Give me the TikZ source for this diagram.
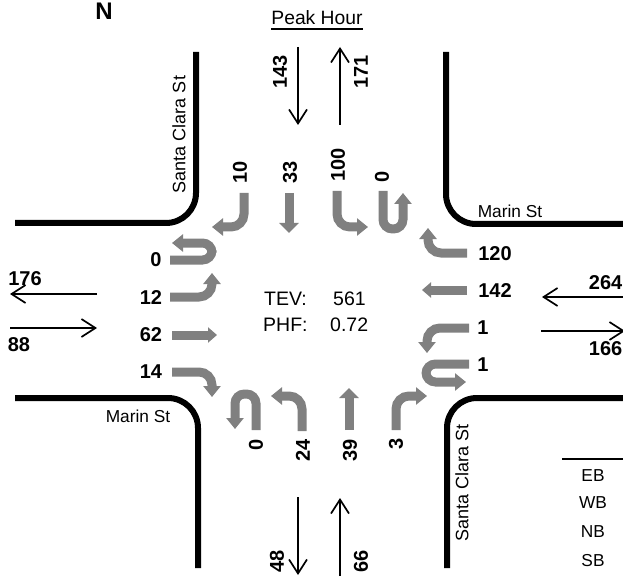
\documentclass[tikz,border=0pt]{standalone}
\usepackage{fontspec}
\setmainfont{Liberation Sans}
\usepackage{xcolor}
\usetikzlibrary{arrows.meta}
\definecolor{movegray}{RGB}{128,128,128}
\tikzset{
  road/.style={line width=6pt, rounded corners=30pt},
  flow/.style={line width=1.7pt, -{Straight Barb[length=14pt,width=18pt,line width=1.7pt]}},
  turn/.style={draw=movegray, line width=9pt, rounded corners=13pt, -{Triangle[length=11pt,width=17pt]}},
  uturn/.style={turn, rounded corners=9.5pt},
  thru/.style={draw=movegray, line width=9pt, -{Triangle[length=9pt,width=15pt]}},
  thruv/.style={draw=movegray, line width=9pt, -{Triangle[length=10pt,width=19pt]}},
  count/.style={font=\fontsize{20}{20}\selectfont\bfseries, inner sep=0pt},
  vcount/.style={count, rotate=90},
  street/.style={font=\fontsize{17.3}{17}\selectfont, inner sep=0pt},
  vstreet/.style={font=\fontsize{18}{18}\selectfont, inner sep=0pt, rotate=90},
  info/.style={font=\fontsize{19.5}{19}\selectfont, inner sep=0pt}
}
\begin{document}
\begin{tikzpicture}[x=1pt, y=-1pt]
  \useasboundingbox (0,0) rectangle (623,577);

  % Curbs
  \draw[road] (196,52) -- (196,223) -- (15,223);
  \draw[road] (446,52) -- (446,224) -- (623,224);
  \draw[road] (15,398) -- (198,398) -- (198,568);
  \draw[road] (447,568) -- (447,398) -- (623,398);

  % Peak hour totals
  \draw[flow] (298,47) -- (298,125);
  \draw[flow] (340,125) -- (340,47);
  \draw[flow] (97,294) -- (10,294);
  \draw[flow] (10,328) -- (97,328);
  \draw[flow] (623,297) -- (542,297);
  \draw[flow] (541,331) -- (625,331);
  \draw[flow] (298,497) -- (298,575);
  \draw[flow] (340,576) -- (340,498);

  % Southbound
  \draw[turn]  (244,193) -- (244,227) -- (212,227);
  \draw[thruv] (289,193) -- (289,233);
  \draw[turn]  (337,191) -- (337,227) -- (368,227);
  \draw[uturn] (383,191) -- (383,229) -- (403,229) -- (403,193);
  % Eastbound
  \draw[uturn] (170,260) -- (212,260) -- (212,243) -- (172,243);
  \draw[turn]  (170,297) -- (212,297) -- (212,273);
  \draw[thru]  (172,335) -- (217,335);
  \draw[turn]  (172,372) -- (212,372) -- (212,397);
  % Northbound
  \draw[uturn] (256,430) -- (256,394) -- (235,394) -- (235,429);
  \draw[turn]  (302,431) -- (302,396) -- (271,396);
  \draw[thruv] (349,430) -- (349,388);
  \draw[turn]  (396,430) -- (396,396) -- (427,396);
  % Westbound
  \draw[turn]  (467,253) -- (428,253) -- (428,228);
  \draw[thru]  (467,290) -- (422,290);
  \draw[turn]  (469,328) -- (427,328) -- (427,353);
  \draw[uturn] (469,364) -- (426,364) -- (426,382) -- (466,382);

  % Title
  \node[font=\fontsize{19.3}{19}\selectfont, inner sep=0pt] (title) at (317,18) {Peak Hour};
  \draw[line width=2pt] ([yshift=-4pt]title.south west) -- ([yshift=-4pt]title.south east);
  \node[font=\fontsize{24}{24}\selectfont\bfseries, inner sep=0pt, anchor=base] (north) at (104,19.5) {N};

  % Turn counts
  \node[vcount] (sbL) at (240,172) {10};
  \node[vcount] (sbT) at (290,172) {33};
  \node[vcount] (sbR) at (338,165) {100};
  \node[vcount] (sbU) at (382,177) {0};
  \node[count] (ebU) at (156,260) {0};
  \node[count] (ebL) at (151,298) {12};
  \node[count] (ebT) at (151,335) {62};
  \node[count] (ebR) at (151,372) {14};
  \node[vcount] (nbU) at (256,445) {0};
  \node[vcount] (nbL) at (303,450) {24};
  \node[vcount] (nbT) at (350,450) {39};
  \node[vcount] (nbR) at (396,444) {3};
  \node[count] (wbL) at (495,254) {120};
  \node[count] (wbT) at (495,291) {142};
  \node[count] (wbR) at (483,328) {1};
  \node[count] (wbU) at (483,365) {1};

  % Approach totals
  \node[vcount] (sOut) at (280,72) {143};
  \node[vcount] (sIn)  at (361,72) {171};
  \node[count] (wOut) at (25,279) {176};
  \node[count] (wIn)  at (19,345) {88};
  \node[count, anchor=east] (eIn)  at (622.5,283) {264};
  \node[count, anchor=east] (eOut) at (622.5,349) {166};
  \node[vcount] (nOut) at (277,561) {48};
  \node[vcount] (nIn)  at (361,561) {66};

  % Streets
  \node[vstreet] (scN) at (179,134.5) {Santa Clara St};
  \node[vstreet] (scS) at (462,483) {Santa Clara St};
  \node[street] (mE) at (510,211) {Marin St};
  \node[street] (mW) at (138,416) {Marin St};

  % Centre
  \node[info, anchor=west] (tev) at (264,299) {TEV:};
  \node[info, anchor=west] (tevV) at (333,299) {561};
  \node[info, anchor=west] (phf) at (263,325) {PHF:};
  \node[info, anchor=west] (phfV) at (330,325) {0.72};

  % Table
  \draw[line width=2.5pt] (562,459) -- (623,459);
  \node[street] (eb) at (593,476) {EB};
  \node[street] (wb) at (593,503) {WB};
  \node[street] (nb) at (593,532) {NB};
  \node[street] (sb) at (593,561) {SB};
\end{tikzpicture}
\end{document}
